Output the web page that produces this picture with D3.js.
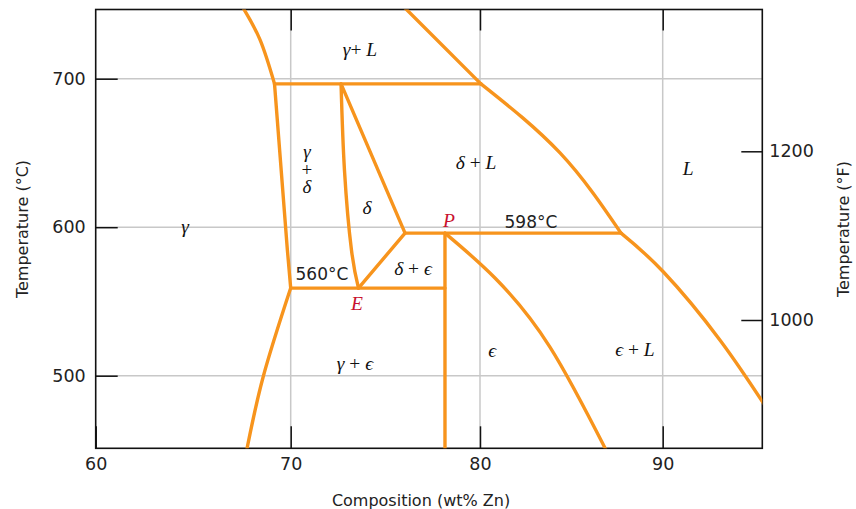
<!DOCTYPE html>
<html>
<head>
<meta charset="utf-8">
<script src="https://cdn.jsdelivr.net/npm/d3@7"></script>
<style>
  html, body { margin: 0; padding: 0; background: #fff; }
  svg { display: block; }
</style>
</head>
<body>
<svg id="chart" width="856" height="509"></svg>
<script>
// ---------- data ----------
const xTicks = [60, 70, 80, 90];
const xGrid = [70, 80, 90];
const yTicksC = [500, 600, 700];
const yTicksF = [1000, 1200];

// phase boundaries: [wt% Zn, temperature °C]
const liqGamma      = [[67.50,749],[68.43,726.1],[69.17,696.5]];
const solvGammaUp   = [[69.17,696.5],[69.83,584.6],[70.0,559]];
const solvGammaLow  = [[70.0,559],[68.59,499.3],[67.70,447]];
const periLine700   = [[69.17,696.5],[80.05,696.5]];
const liqGammaL     = [[75.85,750],[80.05,696.5]];
const liqDelta      = [[80.05,696.5],[84.38,650],[87.72,596]];
const liqEps        = [[87.72,596],[90.03,570],[93.13,524.1],[95.7,478]];
const deltaLeft     = [[72.66,696.5],[72.84,638.5],[73.21,584.6],[73.58,559]];
const deltaRight    = [[72.66,696.5],[76.04,596]];
const deltaEps      = [[73.58,559],[76.04,596]];
const periLine598   = [[76.04,596],[87.72,596]];
const eutLine       = [[70.0,559],[78.15,559]];
const epsLeft       = [[78.15,596],[78.15,448]];
const epsRight      = [[78.15,596],[80.82,565.8],[83.83,519.3],[86.98,448]];

const curved = [liqGamma, solvGammaLow, liqDelta, liqEps, deltaLeft, epsRight];
const straight = [solvGammaUp, periLine700, liqGammaL, deltaRight, deltaEps, periLine598, eutLine, epsLeft];

// region labels
const phaseLabels = [
  {parts: [["γ","i"],["+ ","n"],["L","i"]], x: 73.66, t: 720},
  {parts: [["γ","i"]], x: 64.58, t: 600.8},
  {parts: [["δ","i"]], x: 74.03, t: 613.6},
  {parts: [["δ","i"],[" + ","n"],["L","i"]], x: 79.79, t: 643.9},
  {parts: [["L","i"]], x: 91.39, t: 639.9},
  {parts: [["δ","i"],[" + ","n"],["ϵ","i"]], x: 76.46, t: 572.5},
  {parts: [["γ","i"],[" + ","n"],["ϵ","i"]], x: 73.39, t: 508.6},
  {parts: [["ϵ","i"]], x: 80.66, t: 517.3},
  {parts: [["ϵ","i"],[" + ","n"],["L","i"]], x: 88.48, t: 518}
];
// vertically stacked label "γ + δ"
const stackLabel = {x: 70.86, lines: [["γ","i",651],["+","n",639],["δ","i",627.5]]};
const pointLabels = [
  {text: "P", x: 78.36, t: 604.8},
  {text: "E", x: 73.5, t: 548.3}
];
const tempLabels = [
  {text: "598°C", x: 82.79, t: 603.5},
  {text: "560°C", x: 71.65, t: 568.5}
];

// ---------- layout ----------
const svg = d3.select("#chart");
const pL = 95.7, pR = 762.3, pT = 9.5, pB = 448.3;
const orange = "#f7941d", gridCol = "#c8c8c8", red = "#c8102e";
const sans = "'DejaVu Sans', sans-serif";
const serif = "'Liberation Serif', 'DejaVu Serif', serif";

const x = d3.scaleLinear().domain([60, 70, 80, 90]).range([95.7, 290.7, 480, 662.7]);
const y = d3.scaleLinear().domain([700, 500]).range([78.7, 375.7]);
const yF = d3.scaleLinear().domain([1200, 1000]).range([151.3, 320]);

svg.append("rect").attr("width", 856).attr("height", 509).attr("fill", "#fff");

svg.append("defs").append("clipPath").attr("id", "plotclip")
  .append("rect").attr("x", pL).attr("y", pT).attr("width", pR - pL).attr("height", pB - pT);

// gridlines
const g = svg.append("g");
g.selectAll("line.vg").data(xGrid).join("line")
  .attr("class", "vg")
  .attr("x1", d => x(d)).attr("x2", d => x(d)).attr("y1", pT).attr("y2", pB)
  .attr("stroke", gridCol).attr("stroke-width", 1.5);
g.selectAll("line.hg").data(yTicksC).join("line")
  .attr("class", "hg")
  .attr("x1", pL).attr("x2", pR).attr("y1", d => y(d)).attr("y2", d => y(d))
  .attr("stroke", gridCol).attr("stroke-width", 1.5);

// axes
function styleAxis(sel) {
  sel.select(".domain").remove();
  sel.selectAll(".tick line").attr("stroke", "#111").attr("stroke-width", 1.5);
  sel.selectAll(".tick text").attr("fill", "#222").style("font-family", sans).style("font-size", "17.5px");
}
svg.append("g").attr("transform", `translate(0,${pB})`)
  .call(d3.axisBottom(x).tickValues(xTicks).tickSize(-22).tickPadding(9).tickFormat(d3.format("d")))
  .call(styleAxis);
svg.append("g").attr("transform", `translate(0,${pT})`)
  .call(d3.axisTop(x).tickValues(xGrid).tickSize(-21).tickFormat(""))
  .call(styleAxis);
svg.append("g").attr("transform", `translate(${pL},0)`)
  .call(d3.axisLeft(y).tickValues(yTicksC).tickSize(-22).tickPadding(10).tickFormat(d3.format("d")))
  .call(styleAxis);
svg.append("g").attr("transform", `translate(${pR},0)`)
  .call(d3.axisRight(yF).tickValues(yTicksF).tickSize(-21).tickPadding(7).tickFormat(d3.format("d")))
  .call(styleAxis);

// frame
svg.append("rect").attr("x", pL).attr("y", pT).attr("width", pR - pL).attr("height", pB - pT)
  .attr("fill", "none").attr("stroke", "#111").attr("stroke-width", 1.6);

// axis titles
svg.append("text").attr("x", 421).attr("y", 500).attr("text-anchor", "middle").attr("dominant-baseline", "central")
  .style("font-family", sans).style("font-size", "16px").attr("fill", "#222").text("Composition (wt% Zn)");
svg.append("text").attr("transform", "translate(22,229) rotate(-90)").attr("text-anchor", "middle").attr("dominant-baseline", "central")
  .style("font-family", sans).style("font-size", "16px").attr("fill", "#222").text("Temperature (°C)");
svg.append("text").attr("transform", "translate(843,229) rotate(-90)").attr("text-anchor", "middle").attr("dominant-baseline", "central")
  .style("font-family", sans).style("font-size", "16px").attr("fill", "#222").text("Temperature (°F)");

// phase boundaries
const plot = svg.append("g").attr("clip-path", "url(#plotclip)");
const lineCurved = d3.line().x(d => x(d[0])).y(d => y(d[1])).curve(d3.curveNatural);
const lineStraight = d3.line().x(d => x(d[0])).y(d => y(d[1]));
plot.selectAll("path.c").data(curved).join("path")
  .attr("class", "c")
  .attr("d", lineCurved).attr("fill", "none").attr("stroke", orange).attr("stroke-width", 3.4)
  .attr("stroke-linejoin", "round").attr("stroke-linecap", "round");
plot.selectAll("path.s").data(straight).join("path")
  .attr("class", "s")
  .attr("d", lineStraight).attr("fill", "none").attr("stroke", orange).attr("stroke-width", 3.4)
  .attr("stroke-linejoin", "round").attr("stroke-linecap", "round");

// labels
const lab = svg.append("g");
phaseLabels.forEach(l => {
  const t = lab.append("text").attr("x", x(l.x)).attr("y", y(l.t))
    .attr("text-anchor", "middle").attr("dominant-baseline", "central")
    .style("font-family", serif).style("font-size", "19.5px").attr("fill", "#111");
  l.parts.forEach(p => t.append("tspan").style("font-style", p[1] === "i" ? "italic" : "normal").text(p[0]));
});
const st = lab.append("text").attr("text-anchor", "middle").attr("dominant-baseline", "central")
  .style("font-family", serif).style("font-size", "19px").attr("fill", "#111");
stackLabel.lines.forEach(p => st.append("tspan")
  .attr("x", x(stackLabel.x)).attr("y", y(p[2]))
  .style("font-style", p[1] === "i" ? "italic" : "normal").text(p[0]));
pointLabels.forEach(l => {
  lab.append("text").attr("x", x(l.x)).attr("y", y(l.t))
    .attr("text-anchor", "middle").attr("dominant-baseline", "central")
    .style("font-family", serif).style("font-style", "italic").style("font-size", "19.5px")
    .attr("fill", red).text(l.text);
});
tempLabels.forEach(l => {
  lab.append("text").attr("x", x(l.x)).attr("y", y(l.t))
    .attr("text-anchor", "middle").attr("dominant-baseline", "central")
    .style("font-family", sans).style("font-size", "17px").attr("fill", "#222").text(l.text);
});
</script>
</body>
</html>
